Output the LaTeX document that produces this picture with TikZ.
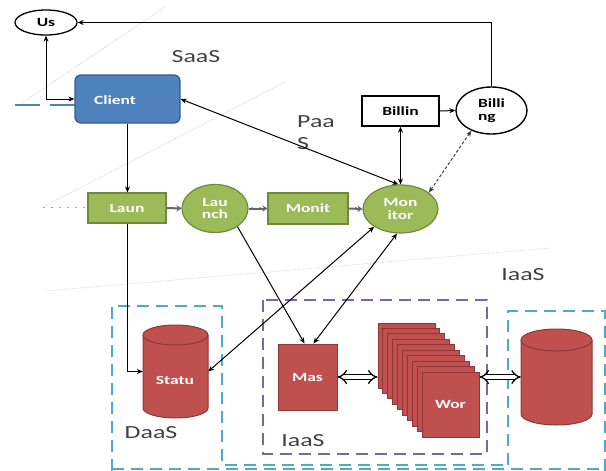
\documentclass[tikz,border=0pt]{standalone}
\usepackage{fontspec}
\setmainfont{Carlito}[FakeStretch=1.4]
\usetikzlibrary{arrows.meta,shapes.geometric}
\definecolor{cblue}{HTML}{4F81BD}
\definecolor{cbluedark}{HTML}{385D8A}
\definecolor{cgreen}{HTML}{9BBB59}
\definecolor{cgreendark}{HTML}{71893F}
\definecolor{cred}{HTML}{C0504D}
\definecolor{creddark}{HTML}{8C3836}
\definecolor{ccyan}{HTML}{4BACC6}
\definecolor{cpurple}{HTML}{8064A2}
\definecolor{labelgray}{HTML}{404040}
\begin{document}
\begin{tikzpicture}[x=1pt,y=1pt,
  nodetext/.style={font=\bfseries\fontsize{12.5}{12.5}\selectfont, align=center, inner sep=0pt},
  greenbox/.style={nodetext, fill=cgreen, draw=cgreendark, line width=1.2pt, text=white},
  redbox/.style={nodetext, fill=cred, draw=creddark, line width=1pt, text=white},
  lbl/.style={font=\fontsize{18.5}{22}\selectfont, text=labelgray, inner sep=0pt},
  arr/.style={line width=1pt, -{Stealth[length=6pt,width=5pt]}},
  biarr/.style={line width=1pt, {Stealth[length=6pt,width=5pt]}-{Stealth[length=6pt,width=5pt]}},
  flow/.style={line width=2pt, black!60, -{Stealth[length=5pt,width=6.5pt]}},
  hollow/.style={double, double distance=3.5pt, line width=1.3pt, {Implies}-{Implies}},
  cyandash/.style={draw=ccyan, line width=1.8pt, dash pattern=on 12pt off 7pt},
  purpdash/.style={draw=cpurple, line width=1.8pt, dash pattern=on 12pt off 7pt},
  guide/.style={gray!45, line width=0.6pt, densely dotted}]
\useasboundingbox (0,0) rectangle (606,-471);

% guide lines
\draw[guide] (22,-103) -- (165,-7);
\draw[guide] (43,-207) -- (285,-82);
\draw[guide] (45,-291) -- (550,-248);
\draw[cblue, line width=1.5pt, dash pattern=on 25pt off 10pt] (15,-105) -- (75,-105);
\draw[cgreen, line width=1.5pt, dash pattern=on 2pt off 6pt] (43,-207.5) -- (363,-207.5);

% dashed boxes
\draw[cyandash] (112,-471) -- (112,-306) -- (222,-306) -- (222,-465) -- (508,-465);
\draw[cyandash] (112,-469) -- (606,-469);
\draw[cyandash] (508,-465) -- (508,-311) -- (605,-311) -- (605,-471);
\draw[purpdash] (263,-300) rectangle (487,-454);

% cylinders
\filldraw[fill=cred, draw=creddark, line width=1pt] (143,-335) -- (143,-408)
  arc[start angle=180, end angle=360, x radius=32.5pt, y radius=10pt] -- (208,-335)
  arc[start angle=0, end angle=180, x radius=32.5pt, y radius=10pt] -- cycle;
\draw[creddark, line width=1pt] (143,-335) arc[start angle=180, end angle=360, x radius=32.5pt, y radius=10pt];
\filldraw[fill=cred, draw=creddark, line width=1pt] (521,-340) -- (521,-414)
  arc[start angle=180, end angle=360, x radius=35.5pt, y radius=11pt] -- (592,-340)
  arc[start angle=0, end angle=180, x radius=35.5pt, y radius=11pt] -- cycle;
\draw[creddark, line width=1pt] (521,-340) arc[start angle=180, end angle=360, x radius=35.5pt, y radius=11pt];
\node[inner sep=0pt, minimum width=65pt, minimum height=93pt] (statu) at (175.5,-371.5) {};
\node[nodetext, text=white] (statutxt) at (175,-380) {Statu};
\node[inner sep=0pt, minimum width=71pt, minimum height=96pt] (db) at (556.5,-377) {};

% nodes
\node[ellipse, draw, line width=1.3pt, fill=white, minimum width=62pt, minimum height=25pt, nodetext] (us) at (46,-22.5) {Us};
\node[rounded corners=6pt, fill=cblue, draw=cbluedark, line width=1.3pt, minimum width=105pt, minimum height=48pt, inner sep=0pt] (client) at (127.5,-99) {};
\node[nodetext, text=white] (clienttxt) at (115,-100) {Client};
\node[greenbox, minimum width=78pt, minimum height=30pt] (laun) at (127,-208) {Laun};
\node[greenbox, ellipse, minimum width=66pt, minimum height=48pt] (launch) at (215,-208.5) {Lau\\nch};
\node[greenbox, minimum width=80pt, minimum height=31pt] (monit) at (308,-208.5) {Monit};
\node[greenbox, ellipse, minimum width=75pt, minimum height=48pt] (monitor) at (400.5,-209) {Mon\\itor};
\node[draw, line width=1.4pt, fill=white, minimum width=77pt, minimum height=30pt, nodetext] (billin) at (400.5,-111) {Billin};
\node[ellipse, draw, line width=1.4pt, fill=white, minimum width=71pt, minimum height=47pt, nodetext, align=left] (billing) at (491.5,-110.5) {Billi\\ng};
\node[redbox, minimum width=59pt, minimum height=66pt] (mas) at (307.5,-377) {Mas};
\foreach \k in {0,...,8}
  \node[redbox, minimum width=57pt, minimum height=65pt] (card\k) at ({406.5+4.89*\k},{-355.5-5.44*\k}) {};
\node[redbox, minimum width=57pt, minimum height=65pt] (wor) at (450.5,-404.5) {Wor};

% labels
\node[lbl] (saas) at (196,-57) {SaaS};
\node[lbl, align=left, anchor=north west] (paas) at (297,-115) {Paa\\S};
\node[lbl] (iaas1) at (523,-275) {IaaS};
\node[lbl] (iaas2) at (303,-441) {IaaS};
\node[lbl] (daas) at (151,-433) {DaaS};

% connectors
\draw[arr] (billing.north) |- (us.east);
\draw[biarr] (us.south) |- (client.west);
\draw[arr] (client.south) -- (client.south |- laun.north);
\draw[flow] (laun.east) -- (launch.west);
\draw[flow] (launch.east) -- (monit.west);
\draw[flow] (monit.east) -- (monitor.west);
\draw[biarr] (monitor.north) -- (billin.south);
\draw[arr] (billin.east) -- (billing.west);
\draw[biarr, densely dashed, black!75] (monitor.30) -- (billing.225);
\draw[biarr] (client.east) -- (monitor.95);
\draw[arr] (laun.south) |- (statu.west);
\draw[biarr] (monitor.214) -- (statu.east);
\draw[arr] (launch.321) -- (mas.95);
\draw[biarr] (monitor.262) -- (mas.80);
\draw[hollow] (mas.east) -- (mas.east -| card0.west);
\draw[hollow] (wor.east |- db.west) -- (db.west);
\end{tikzpicture}
\end{document}
